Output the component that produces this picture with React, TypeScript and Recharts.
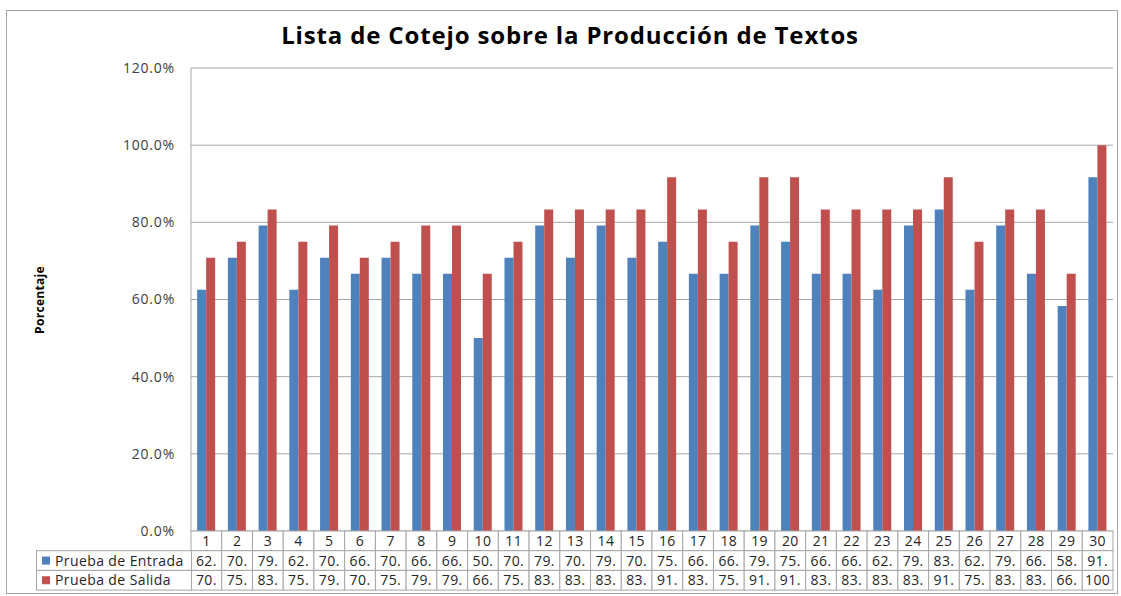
import React from 'react';
import { BarChart, Bar, XAxis, YAxis, CartesianGrid } from 'recharts';

const categories = ['1','2','3','4','5','6','7','8','9','10','11','12','13','14','15','16','17','18','19','20','21','22','23','24','25','26','27','28','29','30'];
const entrada = [62.5,70.8,79.2,62.5,70.8,66.7,70.8,66.7,66.7,50.0,70.8,79.2,70.8,79.2,70.8,75.0,66.7,66.7,79.2,75.0,66.7,66.7,62.5,79.2,83.3,62.5,79.2,66.7,58.3,91.7];
const salida = [70.8,75.0,83.3,75.0,79.2,70.8,75.0,79.2,79.2,66.7,75.0,83.3,83.3,83.3,83.3,91.7,83.3,75.0,91.7,91.7,83.3,83.3,83.3,83.3,91.7,75.0,83.3,83.3,66.7,100.0];
const yTicks = [0, 20, 40, 60, 80, 100, 120];
const seriesNames = ['Prueba de Entrada', 'Prueba de Salida'];
const title = 'Lista de Cotejo sobre la Producción de Textos';
const yLabel = 'Porcentaje';

const data = categories.map((c, i) => ({ cat: c, entrada: entrada[i], salida: salida[i] }));

const W = 1121;
const H = 596;
const PLOT_L = 191;
const PLOT_R = 1113;
const PLOT_T = 68;
const PLOT_B = 531;
const ROW_H = 19.7;
const TABLE_L = 36;
const BLUE = '#4F81BD';
const RED = '#C0504D';
const BORDER = '#a6a6a6';
const FONT = '"Open Sans", "Liberation Sans", sans-serif';
const TXT = '#262626';

const fmt = (v: number) => `${v.toFixed(1)}%`.slice(0, 3);

const TableTick = (props: any) => {
  const { x, payload } = props;
  const i = categories.indexOf(String(payload.value));
  const colW = (PLOT_R - PLOT_L) / categories.length;
  const left = x - colW / 2;
  const rows = [String(payload.value), fmt(entrada[i]), fmt(salida[i])];
  return (
    <g>
      {rows.map((t, r) => (
        <g key={r}>
          <rect x={left} y={PLOT_B + r * ROW_H} width={colW} height={ROW_H} fill="#fff" stroke={BORDER} strokeWidth={1} />
          <text x={x} y={PLOT_B + r * ROW_H + ROW_H / 2 + 5} textAnchor="middle" fontSize={14} letterSpacing={0.4} fontFamily={FONT} fill={TXT}>
            {t}
          </text>
        </g>
      ))}
    </g>
  );
};

export default function App() {
  return (
    <div style={{ position: 'absolute', left: 0, top: 0, width: W, height: H, background: '#fff' }}>
      <BarChart
        width={W}
        height={H}
        data={data}
        margin={{ top: PLOT_T, right: W - PLOT_R, bottom: 5, left: PLOT_L - 60 }}
        barCategoryGap="20%"
        barGap={0}
      >
        <CartesianGrid vertical={false} stroke={BORDER} />
        <YAxis
          width={60}
          domain={[0, 120]}
          ticks={yTicks}
          tickFormatter={(v: number) => `${v.toFixed(1)}%`}
          tickLine={false}
          axisLine={{ stroke: BORDER }}
          tickMargin={10}
          tick={{ fontSize: 14, letterSpacing: 0.8, fontFamily: FONT, fill: '#404040' }}
          interval={0}
        />
        <XAxis
          dataKey="cat"
          height={60}
          interval={0}
          tickLine={false}
          axisLine={false}
          tick={<TableTick />}
        />
        <Bar dataKey="entrada" fill={BLUE} isAnimationActive={false} />
        <Bar dataKey="salida" fill={RED} isAnimationActive={false} />
      </BarChart>
      <svg width={W} height={H} style={{ position: 'absolute', left: 0, top: 0, pointerEvents: 'none' }}>
        <rect x={6.5} y={10.5} width={1111} height={583} fill="none" stroke={BORDER} />
        <text x={570} y={44} textAnchor="middle" fontSize={24} letterSpacing={0.85} fontWeight={700} fontFamily={FONT} fill="#000">
          {title}
        </text>
        <text x={44} y={300} transform="rotate(-90 44 300)" textAnchor="middle" fontSize={12} letterSpacing={0.3} fontWeight={700} fontFamily={FONT} fill="#000">
          {yLabel}
        </text>
        {seriesNames.map((n, r) => (
          <g key={n}>
            <rect x={TABLE_L + 0.5} y={PLOT_B + (r + 1) * ROW_H} width={PLOT_L - TABLE_L} height={ROW_H} fill="#fff" stroke={BORDER} />
            <rect x={42} y={PLOT_B + (r + 1) * ROW_H + ROW_H / 2 - 4} width={8} height={8} fill={r === 0 ? BLUE : RED} />
            <text x={55} y={PLOT_B + (r + 1) * ROW_H + ROW_H / 2 + 5} fontSize={14} letterSpacing={0.4} fontFamily={FONT} fill={TXT}>
              {n}
            </text>
          </g>
        ))}
      </svg>
    </div>
  );
}
